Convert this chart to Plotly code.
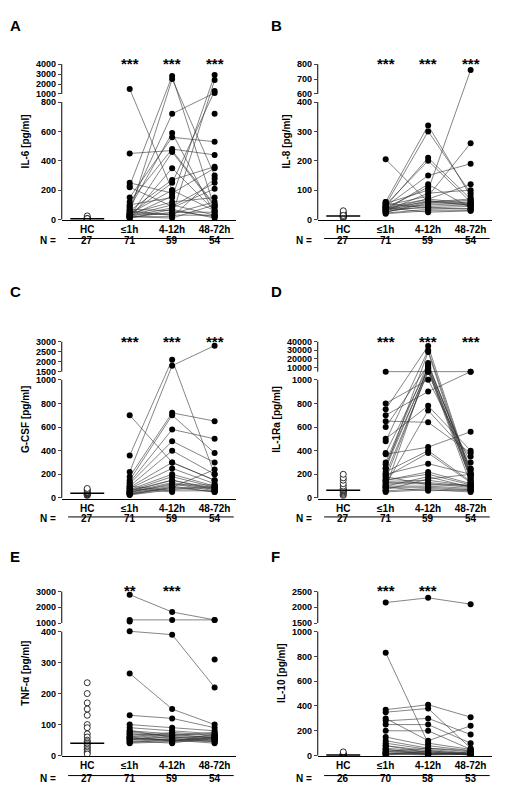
import plotly.graph_objects as go

groups = ["HC", "≤1h", "4-12h", "48-72h"]

# ---- data (pg/ml) ----
il6_hc = [2, 3, 4, 5, 5, 6, 8, 10, 3, 15, 25, 4, 6, 2, 5, 7]
il6_t1 = [1500, 450, 250, 230, 220, 150, 120, 100, 90, 80, 70, 60, 50, 45, 40, 35, 30, 28, 25, 22, 20, 18, 15, 12, 10, 8, 60, 40, 30, 20]
il6_t2 = [200, 470, 180, 2800, 90, 560, 480, 150, 720, 590, 60, 270, 30, 2500, 120, 250, 40, 100, 160, 80, 20, 460, 50, None, 350, 70, 30, 200, None, 10]
il6_t3 = [60, 100, 350, 80, 250, 530, 440, 2900, 1100, 40, 20, 360, 2400, 300, 150, 1300, 120, 30, None, 210, 280, 90, 50, 720, 60, 10, 30, None, 20, 100]

il8_hc = [5, 8, 10, 12, 12, 15, 18, 20, 25, 30, 10, 14]
il8_t1 = [205, 60, 55, 50, 48, 45, 42, 40, 38, 35, 33, 30, 28, 25, 22, 20, 50, 45, 40, 35, 30, 25, 60, 55, 40]
il8_t2 = [60, 320, 100, 200, 80, 150, 70, 60, 50, 40, 120, 90, 45, 55, 35, 30, 300, 210, 110, 70, 65, 60, None, 40, 25]
il8_t3 = [50, 80, 760, 60, 260, 190, 120, 70, 55, 45, 40, 100, 50, 60, 38, 30, 90, 70, None, 55, 48, 65, 50, 35, 30]

gcsf_hc = [20, 25, 30, 35, 40, 40, 45, 50, 60, 70, 80]
gcsf_t1 = [700, 360, 220, 180, 150, 130, 120, 100, 90, 80, 70, 60, 55, 50, 45, 40, 35, 30, 25, 100, 80, 60, 50, 40, 30]
gcsf_t2 = [300, 2100, 1800, 720, 700, 580, 480, 400, 300, 250, 200, 180, 150, 130, 120, 100, 90, 80, 70, 60, 50, 150, 110, None, 90]
gcsf_t3 = [150, 200, 2800, 650, 380, 500, 300, 200, 150, 120, 100, 90, 80, 70, 60, 50, 240, 100, 90, 60, None, 70, 110, 80, 50]

il1ra_hc = [20, 30, 40, 50, 60, 65, 70, 80, 100, 120, 150, 170, 200]
il1ra_t1 = [5000, 800, 750, 700, 650, 600, 500, 480, 380, 370, 300, 280, 250, 220, 200, 180, 160, 150, 140, 120, 110, 100, 90, 80, 70, 60, 50, 200, 150, 100, 250, 180, 130, 90, 60]
il1ra_t2 = [5000, 1000, 35000, 900, 640, 13000, 780, 30000, 10000, 430, 15000, 8000, 28000, 400, 290, 380, 6000, 200, 150, 120, 740, 100, 90, 12000, 160, 80, 70, 5000, 220, 180, 9000, 110, 130, 60, None]
il1ra_t3 = [5000, 300, 200, 5000, 380, 250, 400, 190, 180, 560, 220, 160, 150, 140, 200, 130, 120, 110, 100, 90, 350, 80, 70, 240, 200, 60, 50, 170, 120, 90, 200, 110, 100, 70, 60]

tnf_hc = [235, 200, 170, 150, 130, 100, 90, 70, 60, 50, 45, 40, 35, 30, 25, 20, 15, 10, 5]
tnf_t1 = [2800, 1200, 1100, 420, 265, 130, 100, 90, 80, 75, 70, 65, 60, 58, 55, 52, 50, 48, 45, 42, 40, 60, 70, 80, 55]
tnf_t2 = [1700, 1200, None, 390, 150, 120, 90, 80, 70, 65, 60, 55, 50, 48, 45, 60, 70, 40, 55, 50, 45, 75, 65, 60, 50]
tnf_t3 = [1200, 1200, 310, 220, 100, 90, 80, 70, 65, 60, 55, 50, 45, 60, 70, 50, 55, 60, 45, 40, 50, 65, 75, 60, 55]

il10_hc = [0, 2, 3, 5, 5, 8, 10, 15, 20, 30]
il10_t1 = [2150, 830, 370, 350, 300, 280, 250, 200, 150, 120, 100, 80, 60, 50, 40, 30, 20, 15, 10, 5, 50, 30, 20, 10, 80]
il10_t2 = [2300, 100, 410, 380, 120, 300, 250, 200, 80, 60, 50, 40, 30, 20, 15, 10, 8, 5, 30, 20, 10, 60, None, 40, 25]
il10_t3 = [2100, 50, 310, 60, 240, 170, 100, 50, 40, 30, 20, 15, 10, 5, 8, 20, 30, 10, 5, 15, 20, 40, 30, 10, None]

# panel: letter, title, hc, t1, t2, t3, lower max, lower ticks, upper min, upper max, upper ticks, N, stars, hc median
panels = [
    ("A", "IL-6 [pg/ml]", il6_hc, il6_t1, il6_t2, il6_t3, 800, [0, 200, 400, 600, 800], 1000, 4000, [1000, 2000, 3000, 4000], [27, 71, 59, 54], ["***", "***", "***"], 5),
    ("B", "IL-8 [pg/ml]", il8_hc, il8_t1, il8_t2, il8_t3, 400, [0, 100, 200, 300, 400], 600, 800, [600, 700, 800], [27, 71, 59, 54], ["***", "***", "***"], 12),
    ("C", "G-CSF [pg/ml]", gcsf_hc, gcsf_t1, gcsf_t2, gcsf_t3, 1000, [0, 200, 400, 600, 800, 1000], 1500, 3000, [1500, 2000, 2500, 3000], [27, 71, 59, 54], ["***", "***", "***"], 40),
    ("D", "IL-1Ra [pg/ml]", il1ra_hc, il1ra_t1, il1ra_t2, il1ra_t3, 1000, [0, 200, 400, 600, 800, 1000], 5000, 40000, [10000, 20000, 30000, 40000], [27, 71, 59, 54], ["***", "***", "***"], 65),
    ("E", "TNF-α [pg/ml]", tnf_hc, tnf_t1, tnf_t2, tnf_t3, 400, [0, 100, 200, 300, 400], 1000, 3000, [1000, 2000, 3000], [27, 71, 59, 54], ["**", "***", ""], 40),
    ("F", "IL-10 [pg/ml]", il10_hc, il10_t1, il10_t2, il10_t3, 1000, [0, 200, 400, 600, 800, 1000], 1500, 2500, [1500, 2000, 2500], [26, 70, 58, 53], ["***", "***", ""], 5),
]

LOW, GAP = 0.756, 0.052


def tf(v, lmax, umin, umax):
    # broken axis: linear lower part, short gap, compressed upper part
    if v is None:
        return None
    if v <= lmax:
        return v / lmax * LOW
    if v < umin:
        return LOW + (v - lmax) / (umin - lmax) * GAP
    return LOW + GAP + (v - umin) / (umax - umin) * (1 - LOW - GAP)


xdoms = [[0.105, 0.445], [0.605, 0.945]]
ydoms = [[0.736, 0.935], [0.385, 0.585], [0.06, 0.27]]
letter_y = [0.995, 0.66, 0.325]

fig = go.Figure()
shapes, annos = [], []
font = dict(family="Liberation Sans, Arial", color="black")

for i, (let, title, hc, t1, t2, t3, lmax, lt, umin, umax, ut, ns, stars, med) in enumerate(panels):
    r, c = divmod(i, 2)
    k = "" if i == 0 else str(i + 1)
    xa, ya = "x" + k, "y" + k
    f = lambda v: tf(v, lmax, umin, umax)

    # patient trajectories
    lx, ly = [], []
    for a, b, d in zip(t1, t2, t3):
        lx += [1, 2, 3, None]
        ly += [f(a), f(b), f(d), None]
    fig.add_trace(go.Scatter(x=lx, y=ly, mode="lines", line=dict(color="#333", width=0.6),
                             xaxis=xa, yaxis=ya, showlegend=False, connectgaps=False))
    px_, py_ = [], []
    for j, s in enumerate([t1, t2, t3]):
        for v in s:
            if v is not None:
                px_.append(j + 1)
                py_.append(f(v))
    fig.add_trace(go.Scatter(x=px_, y=py_, mode="markers", marker=dict(color="black", size=6),
                             xaxis=xa, yaxis=ya, showlegend=False))
    fig.add_trace(go.Scatter(x=[0] * len(hc), y=[f(v) for v in hc], mode="markers",
                             marker=dict(color="white", size=6, line=dict(color="black", width=0.8)),
                             xaxis=xa, yaxis=ya, showlegend=False))
    fig.add_trace(go.Scatter(x=[-0.4, 0.4], y=[f(med)] * 2, mode="lines", line=dict(color="black", width=1.5),
                             xaxis=xa, yaxis=ya, showlegend=False))

    tv = lt + ut
    fig.update_layout({
        "xaxis" + k: dict(domain=xdoms[c], anchor=ya, range=[-0.6, 3.5], tickvals=[0, 1, 2, 3],
                          ticktext=["<b>%s</b>" % g for g in groups], showline=True, linecolor="black",
                          ticks="", showgrid=False, zeroline=False, tickfont=dict(size=10, **font)),
        "yaxis" + k: dict(domain=ydoms[r], anchor=xa, range=[-0.005, 1.01], tickvals=[f(v) for v in tv],
                          ticktext=["<b>%d</b>" % v for v in tv], ticks="outside", ticklen=3, showgrid=False,
                          zeroline=False, showline=False, tickfont=dict(size=9, **font),
                          title=dict(text="<b>%s</b>" % title, font=dict(size=10, **font), standoff=4)),
    })
    # broken y axis line
    for y0, y1 in [(0, LOW), (LOW + GAP, 1)]:
        shapes.append(dict(type="line", xref=xa + " domain", yref=ya, x0=0, x1=0, y0=y0, y1=y1,
                           line=dict(color="black", width=1)))
    # line under group labels and N row
    shapes.append(dict(type="line", xref=xa, yref=ya + " domain", x0=-0.45, x1=3.45, y0=-0.115, y1=-0.115,
                       line=dict(color="black", width=1)))
    annos.append(dict(text="<b>N =</b>", xref=xa + " domain", yref=ya + " domain", x=-0.02, y=-0.175,
                      showarrow=False, xanchor="right", font=dict(size=10, **font)))
    for j, n in enumerate(ns):
        annos.append(dict(text="<b>%d</b>" % n, xref=xa, yref=ya + " domain", x=j, y=-0.175,
                          showarrow=False, font=dict(size=10, **font)))
    for j, s in enumerate(stars):
        if s:
            annos.append(dict(text="<b>%s</b>" % s, xref=xa, yref=ya + " domain", x=j + 1, y=1.06,
                              showarrow=False, font=dict(size=15, **font)))
    annos.append(dict(text="<b>%s</b>" % let, xref="paper", yref="paper", x=0.0 if c == 0 else 0.51,
                      y=letter_y[r], showarrow=False, xanchor="left", yanchor="top",
                      font=dict(size=15, **font)))

fig.update_layout(width=512, height=800, margin=dict(l=0, r=0, t=0, b=0),
                  plot_bgcolor="white", paper_bgcolor="white", shapes=shapes, annotations=annos,
                  font=font)

fig.write_html("out.html")
